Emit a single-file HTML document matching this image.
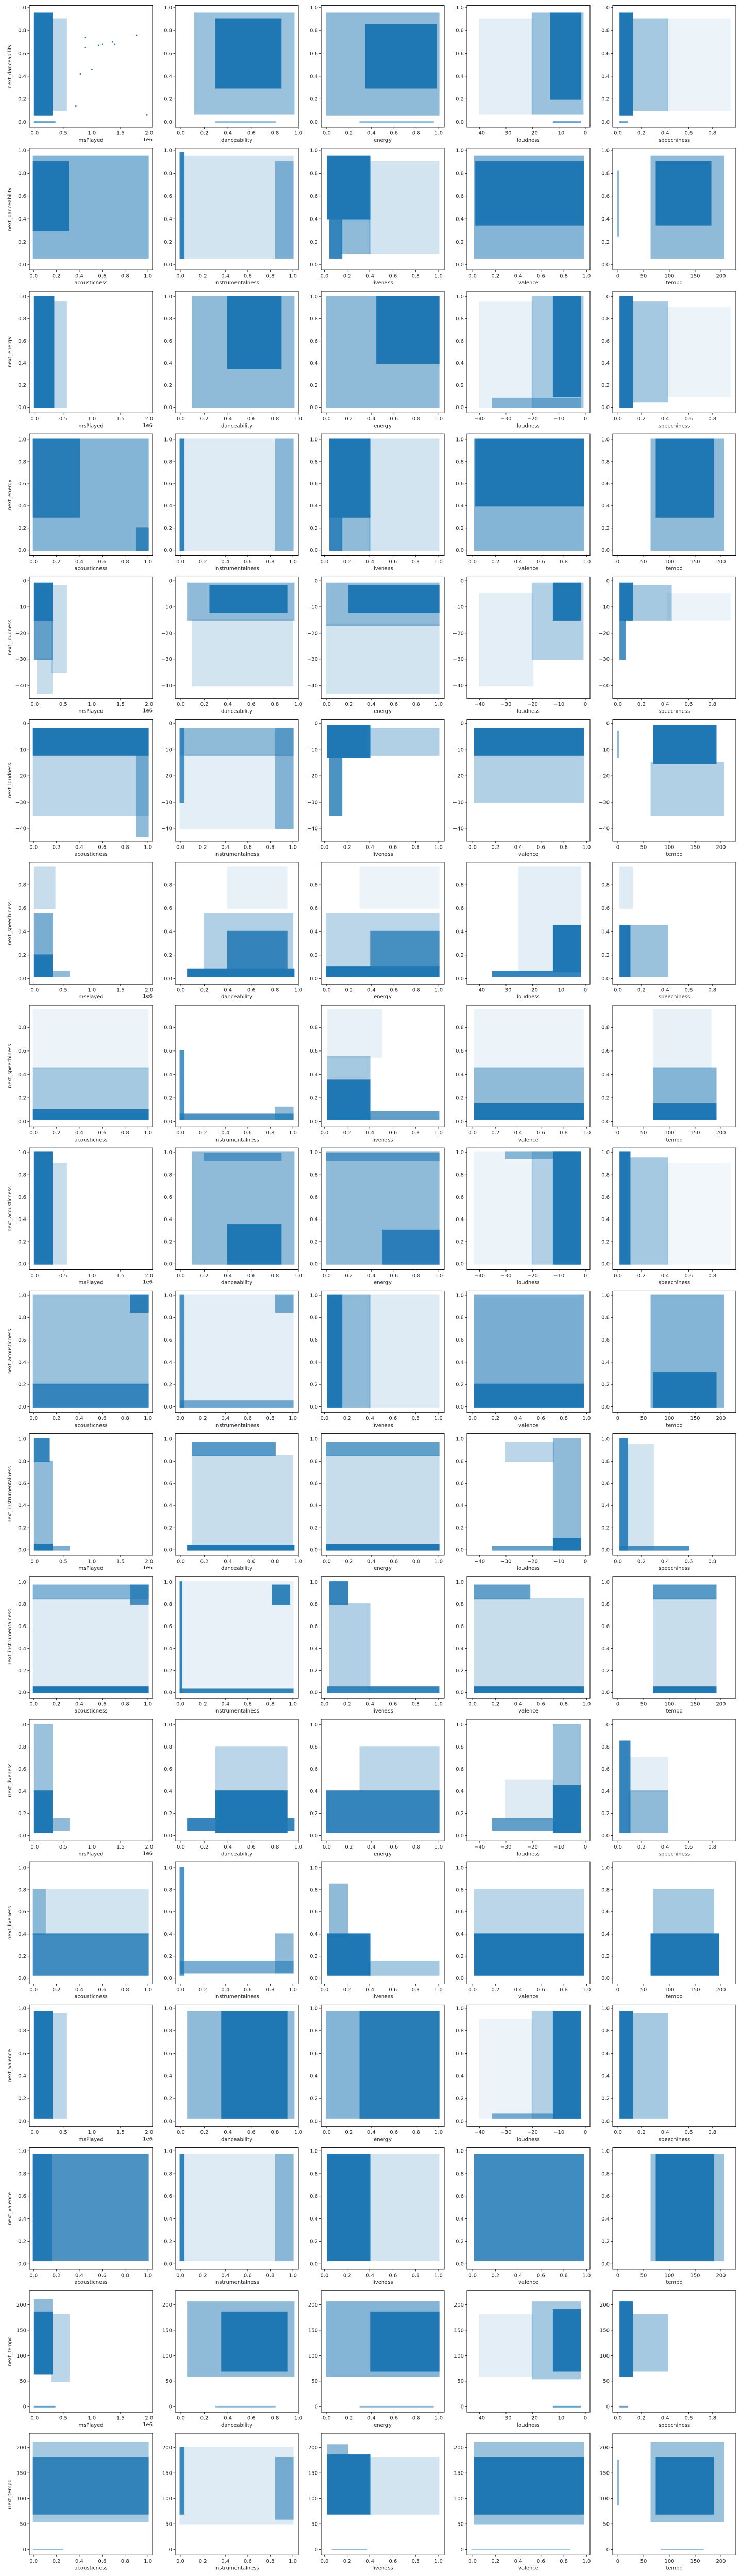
<!DOCTYPE html>
<html><head><meta charset="utf-8">
<style>
html,body{margin:0;padding:0;background:#fff;width:100%;height:100%;overflow:hidden;}
svg{display:block;width:100vw;height:100vh;}
svg text{font-family:"DejaVu Sans","Liberation Sans",sans-serif;fill:#262626;}
</style></head>
<body>
<svg id="chart" xmlns="http://www.w3.org/2000/svg" viewBox="0 0 1440 5184" preserveAspectRatio="none"></svg>
<script>
// ---- data ----
const xVarsA = ["msPlayed","danceability","energy","loudness","speechiness"];
const xVarsB = ["acousticness","instrumentalness","liveness","valence","tempo"];
const targets = ["next_danceability","next_energy","next_loudness","next_speechiness","next_acousticness","next_instrumentalness","next_liveness","next_valence","next_tempo"];
const targetKeys = ["danceability","energy","loudness","speechiness","acousticness","instrumentalness","liveness","valence","tempo"];
const ranges = {
  msPlayed:[-0.093,2.06], danceability:[-0.048,1.0], energy:[-0.05,1.05], loudness:[-44.8,1.75],
  speechiness:[-0.044,1.0], acousticness:[-0.037,1.04], instrumentalness:[-0.046,1.05],
  liveness:[-0.029,1.05], valence:[-0.05,1.03], tempo:[-10,229]
};
const yRanges = {
  danceability:[-0.0465,1.019], energy:[-0.05,1.05], loudness:[-44.9,1.5], speechiness:[-0.047,0.99],
  acousticness:[-0.052,1.04], instrumentalness:[-0.05,1.05], liveness:[-0.05,1.05], valence:[-0.049,1.03], tempo:[-10.9,228]
};
const ticks = {
  msPlayed:[0,0.5,1,1.5,2], danceability:[0,0.2,0.4,0.6,0.8,1], energy:[0,0.2,0.4,0.6,0.8,1],
  loudness:[-40,-30,-20,-10,0], speechiness:[0,0.2,0.4,0.6,0.8], acousticness:[0,0.2,0.4,0.6,0.8,1],
  instrumentalness:[0,0.2,0.4,0.6,0.8,1], liveness:[0,0.2,0.4,0.6,0.8,1], valence:[0,0.2,0.4,0.6,0.8,1], tempo:[0,50,100,150,200]
};
// density regions per panel: [x0,x1,y0,y1,density]
const panelBlobs = [
 [[[0,0.3,0.06,0.95,1],[0.3,0.55,0.1,0.9,0.3],[0,0.35,0,0,0.7]],
  [[0.12,0.96,0.07,0.95,0.45],[0.3,0.85,0.3,0.9,1],[0.3,0.8,0,0,0.5]],
  [[0,1,0.06,0.95,0.5],[0.35,0.98,0.3,0.85,1],[0.3,0.95,0,0,0.5]],
  [[-40,-20,0.07,0.9,0.12],[-20,-1,0.07,0.95,0.45],[-13,-2,0.2,0.95,1],[-12,-2,0,0,0.7]],
  [[0.42,0.95,0.1,0.9,0.08],[0.12,0.42,0.1,0.9,0.4],[0.02,0.12,0.06,0.95,1],[0.02,0.08,0,0,0.7]]],
 [[[0,1,0.06,0.95,0.55],[0,0.3,0.3,0.9,1]],
  [[0,1,0.06,0.95,0.2],[0.85,1,0.06,0.9,0.5],[0,0.03,0.06,0.98,0.9]],
  [[0.4,1,0.1,0.9,0.2],[0.15,0.4,0.1,0.4,0.5],[0.03,0.4,0.4,0.95,1],[0.05,0.15,0.06,0.4,0.9]],
  [[0.02,0.97,0.06,0.95,0.55],[0.03,0.97,0.35,0.9,1]],
  [[65,205,0.06,0.95,0.5],[75,180,0.35,0.9,1],[0,1,0.25,0.82,0.5]]],
 [[[0.33,0.55,0,0.95,0.3],[0,0.33,0,1,1]],
  [[0.1,0.96,0,1,0.5],[0.4,0.85,0.35,1,1]],
  [[0,1,0,1,0.5],[0.45,1,0.4,1,1]],
  [[-40,-20,0,0.95,0.1],[-35,-2,0,0.08,0.5],[-20,-1,0,1,0.4],[-12,-2,0.1,1,1]],
  [[0.42,0.95,0.1,0.9,0.08],[0.12,0.42,0.05,0.95,0.4],[0.02,0.12,0,1,1]]],
 [[[0,1,0,1,0.55],[0,0.4,0.3,1,0.9],[0.9,1,0,0.2,0.8]],
  [[0,1,0,1,0.15],[0.85,1,0,1,0.45],[0,0.03,0,1,0.9]],
  [[0.4,1,0,1,0.2],[0.15,0.4,0,0.3,0.5],[0.05,0.4,0.3,1,1],[0.05,0.15,0,0.3,0.9]],
  [[0.02,0.97,0,1,0.55],[0.03,0.97,0.4,1,1]],
  [[65,205,0,1,0.5],[75,185,0.3,1,1]]],
 [[[0.3,0.55,-35,-2,0.25],[0.05,0.3,-43,-30,0.25],[0,0.3,-30,-15,0.7],[0,0.3,-15,-1,1]],
  [[0.1,0.95,-40,-15,0.2],[0.06,0.96,-15,-1,0.5],[0.25,0.9,-12,-2,1]],
  [[0,1,-43,-17,0.2],[0,1,-17,-1,0.5],[0.2,1,-12,-2,1]],
  [[-40,-20,-40,-5,0.12],[-20,-1,-30,-1,0.35],[-12,-2,-15,-1,1]],
  [[0.42,0.95,-15,-5,0.08],[0.12,0.45,-15,-2,0.4],[0.02,0.06,-30,-15,0.8],[0.02,0.12,-15,-1,1]]],
 [[[0,1,-35,-12,0.3],[0.9,1,-43,-12,0.5],[0,1,-12,-2,1]],
  [[0,1,-40,-12,0.12],[0,1,-12,-2,0.5],[0.85,1,-40,-2,0.5],[0,0.03,-30,-2,0.8]],
  [[0.4,1,-12,-2,0.35],[0.05,0.15,-35,-13,0.8],[0.03,0.4,-13,-1,1]],
  [[0.02,0.97,-30,-12,0.35],[0.02,0.97,-12,-2,1]],
  [[65,205,-35,-15,0.35],[70,190,-15,-1,1],[0,1,-13,-3,0.5]]],
 [[[0,0.35,0.6,0.95,0.25],[0.3,0.6,0.02,0.06,0.5],[0,0.3,0.2,0.55,0.6],[0,0.3,0.02,0.2,1]],
  [[0.4,0.9,0.6,0.95,0.1],[0.2,0.95,0.08,0.55,0.35],[0.4,0.9,0.08,0.4,0.85],[0.06,0.96,0.02,0.08,1]],
  [[0.3,1,0.6,0.95,0.08],[0,1,0.1,0.55,0.3],[0.4,1,0.1,0.4,0.75],[0,1,0.02,0.1,1]],
  [[-25,-2,0.06,0.95,0.12],[-35,-2,0.02,0.06,0.9],[-12,-2,0.06,0.45,1]],
  [[0.1,0.42,0.02,0.45,0.45],[0.02,0.1,0.02,0.45,1],[0.02,0.12,0.6,0.95,0.15]]],
 [[[0,1,0.45,0.95,0.08],[0,1,0.1,0.45,0.4],[0,1,0.02,0.1,1]],
  [[0,1,0.02,0.06,0.8],[0.85,1,0.02,0.12,0.5],[0,0.03,0.02,0.6,0.8]],
  [[0.03,0.5,0.55,0.95,0.1],[0.03,0.4,0.35,0.55,0.4],[0.4,1,0.02,0.08,0.7],[0.03,0.4,0.02,0.35,1]],
  [[0.02,0.97,0.45,0.95,0.08],[0.02,0.97,0.15,0.45,0.5],[0.02,0.97,0.02,0.15,1]],
  [[70,180,0.45,0.95,0.1],[70,190,0.15,0.45,0.55],[70,190,0.02,0.15,1]]],
 [[[0.3,0.55,0,0.9,0.25],[0,0.3,0,1,1]],
  [[0.1,0.96,0,1,0.5],[0.2,0.85,0.93,0.99,0.6],[0.4,0.85,0,0.35,1]],
  [[0,1,0,1,0.5],[0,1,0.93,0.99,0.6],[0.5,1,0,0.3,0.9]],
  [[-42,-20,0,1,0.08],[-20,-2,0,1,0.35],[-30,-2,0.95,1,0.5],[-12,-2,0,1,1]],
  [[0.42,0.95,0,0.9,0.06],[0.1,0.42,0,0.95,0.4],[0.02,0.1,0,1,1]]],
 [[[0,1,0.2,1,0.45],[0,1,0,0.2,0.9],[0.85,1,0.85,1,0.9]],
  [[0,1,0,1,0.12],[0,1,0,0.05,0.6],[0.85,1,0.85,1,0.6],[0,0.03,0,1,0.8]],
  [[0.4,1,0,1,0.15],[0.15,0.4,0,1,0.5],[0.03,0.15,0,1,1]],
  [[0.02,0.97,0.2,1,0.6],[0.02,0.97,0,0.2,1]],
  [[65,205,0,1,0.55],[70,190,0,0.3,1]]],
 [[[0,0.3,0.05,0.8,0.5],[0.3,0.6,0,0.03,0.6],[0,0.25,0.8,1,0.9],[0,0.3,0,0.05,1]],
  [[0.1,0.95,0.04,0.85,0.25],[0.1,0.8,0.85,0.97,0.75],[0.06,0.96,0,0.04,1]],
  [[0,1,0.05,0.85,0.25],[0,1,0.85,0.97,0.7],[0,1,0,0.05,1]],
  [[-30,-12,0.8,0.97,0.3],[-35,-2,0,0.03,0.7],[-12,-2,0.1,1,0.5],[-12,-2,0,0.1,1]],
  [[0.08,0.3,0,0.95,0.2],[0.02,0.6,0,0.03,0.8],[0.02,0.08,0,1,0.9]]],
 [[[0,1,0.05,0.85,0.15],[0,1,0.85,0.97,0.55],[0.85,1,0.8,0.97,0.8],[0,1,0,0.05,1]],
  [[0,1,0,1,0.1],[0,1,0,0.03,0.9],[0.82,0.97,0.8,0.97,0.9],[0,0.01,0,1,0.9]],
  [[0.05,0.4,0.05,0.8,0.35],[0.05,0.2,0.8,1,0.9],[0.03,1,0,0.05,0.9]],
  [[0.02,0.97,0.05,0.85,0.25],[0.02,0.5,0.85,0.97,0.7],[0.02,0.97,0,0.05,1]],
  [[70,190,0.05,0.85,0.25],[70,190,0.85,0.97,0.75],[70,190,0,0.05,1]]],
 [[[0,0.3,0.4,1,0.45],[0.3,0.6,0.05,0.15,0.5],[0,0.3,0.03,0.4,1]],
  [[0.3,0.9,0.4,0.8,0.3],[0.06,0.96,0.05,0.15,0.9],[0.3,0.9,0.03,0.4,1]],
  [[0.3,1,0.4,0.8,0.3],[0,1,0.03,0.4,0.9]],
  [[-30,-12,0.15,0.5,0.15],[-35,-12,0.05,0.15,0.7],[-12,-2,0.45,1,0.45],[-12,-2,0.03,0.45,1]],
  [[0.1,0.42,0.03,0.4,0.5],[0.1,0.42,0.4,0.7,0.12],[0.02,0.1,0.03,0.85,0.9]]],
 [[[0,1,0.4,0.8,0.2],[0,0.1,0.4,0.8,0.4],[0,1,0.03,0.4,0.85]],
  [[0,1,0.05,0.15,0.6],[0.85,1,0.05,0.4,0.5],[0,0.03,0.03,1,0.8]],
  [[0.4,1,0.03,0.15,0.4],[0.05,0.2,0.4,0.85,0.5],[0.03,0.4,0.03,0.4,1]],
  [[0.02,0.97,0.4,0.8,0.3],[0.02,0.97,0.03,0.4,1]],
  [[70,185,0.4,0.8,0.4],[65,195,0.03,0.4,1]]],
 [[[0.3,0.55,0.03,0.95,0.3],[0,0.3,0.03,0.97,1]],
  [[0.06,0.96,0.03,0.97,0.5],[0.35,0.9,0.03,0.97,1]],
  [[0,1,0.03,0.97,0.55],[0.3,1,0.03,0.97,0.9]],
  [[-40,-20,0.03,0.9,0.08],[-35,-2,0.03,0.06,0.6],[-20,-2,0.03,0.97,0.35],[-12,-2,0.03,0.97,1]],
  [[0.12,0.42,0.03,0.95,0.4],[0.02,0.12,0.03,0.97,1]]],
 [[[0,1,0.03,0.97,0.8],[0,0.15,0.03,0.97,0.9]],
  [[0,1,0.03,0.97,0.15],[0.85,1,0.03,0.97,0.45],[0,0.03,0.03,0.97,0.9]],
  [[0.4,1,0.03,0.97,0.2],[0.03,0.4,0.03,0.97,1]],
  [[0.02,0.97,0.03,0.97,0.85]],
  [[65,205,0.03,0.97,0.45],[75,185,0.03,0.97,1]]],
 [[[0.3,0.6,50,180,0.3],[0,0.3,185,210,0.5],[0,0.3,65,185,1],[0,0.35,0,0,0.7]],
  [[0.06,0.96,60,205,0.5],[0.35,0.9,70,185,1],[0.3,0.8,0,0,0.5]],
  [[0,1,60,205,0.55],[0.4,1,70,185,1],[0.3,0.95,0,0,0.5]],
  [[-40,-20,60,180,0.12],[-20,-2,55,205,0.4],[-12,-2,70,190,1],[-12,-2,0,0,0.7]],
  [[0.12,0.42,70,180,0.4],[0.02,0.12,60,205,1],[0.02,0.08,0,0,0.7]]],
 [[[0,1,55,210,0.4],[0,1,70,180,0.85],[0,0.25,0,0,0.5]],
  [[0,1,50,200,0.15],[0.85,1,60,180,0.55],[0,0.03,70,200,0.85]],
  [[0.4,1,70,180,0.2],[0.03,0.2,185,205,0.5],[0.03,0.4,70,185,1],[0.07,0.37,0,0,0.5]],
  [[0.02,0.97,50,210,0.45],[0.02,0.97,70,180,1],[0,0.85,0,0,0.4]],
  [[65,205,55,210,0.45],[75,185,70,180,1],[0,1,88,175,0.5],[85,165,0,0,0.5]]]
];
const msOutlierX = [0.72,0.8,0.88,0.88,1.0,1.12,1.18,1.36,1.4,1.78,1.96];
const msOutlierY = [0.14,0.42,0.74,0.65,0.46,0.67,0.68,0.7,0.68,0.76,0.06];

// ---- layout ----
const svg = document.getElementById('chart');
const NS = 'http://www.w3.org/2000/svg';
const L0 = 57, CW = 283, AW = 239, T0 = 11, RH = 287.4, AH = 245;
const BLUE = '#1f77b4';
function mk(tag, attrs, parent){ const e=document.createElementNS(NS,tag); for(const k in attrs) e.setAttribute(k,attrs[k]); (parent||svg).appendChild(e); return e; }
function fmt(v, key){
  if(key==='loudness'||key==='tempo') return String(v).replace('-','\u2212');
  return v.toFixed(1);
}

for(let r=0;r<18;r++){
  const tIdx = Math.floor(r/2);
  const yKey = targetKeys[tIdx];
  const vars = (r%2===0)?xVarsA:xVarsB;
  const top = T0 + r*RH;
  for(let c=0;c<5;c++){
    const xKey = vars[c];
    const left = L0 + c*CW;
    const xr = ranges[xKey], yr = yRanges[yKey];
    const sx = v => left + (v-xr[0])/(xr[1]-xr[0])*AW;
    const sy = v => top + AH - (v-yr[0])/(yr[1]-yr[0])*AH;
    const g = mk('g',{});
    
    
    const clipId = 'c'+r+'_'+c;
    const cp = mk('clipPath',{id:clipId},g);
    mk('rect',{x:left,y:top,width:AW,height:AH},cp);
    const pg = mk('g',{'clip-path':'url(#'+clipId+')'},g);
    panelBlobs[r][c].forEach(b=>{
      const x0=sx(b[0]), x1=sx(b[1]), y0=sy(b[3]), y1=sy(b[2]);
      const rc = mk('rect',{x:x0-1.5,y:y0-1.5,width:Math.max(3,x1-x0+3),height:Math.max(3,y1-y0+3),fill:BLUE,'fill-opacity':b[4]},pg);
      
      
    });
    if(xKey==='msPlayed' && (yKey==='danceability')){
      msOutlierX.forEach((vx,i)=>{
        const p = mk('circle',{cx:sx(vx),cy:sy(msOutlierY[i]),r:1.5,fill:BLUE},pg);
        
        
      });
    }
    const fr = mk('rect',{x:left,y:top,width:AW,height:AH,fill:'none',stroke:'#000','stroke-width':1},g);
    
    
    ticks[xKey].forEach(t=>{
      const x=sx(t);
      mk('line',{x1:x,x2:x,y1:top+AH,y2:top+AH+3.5,stroke:'#000','stroke-width':0.8},g);
      const tx = mk('text',{x:x,y:top+AH+15,'font-size':10,'text-anchor':'middle'},g);
      tx.textContent = (xKey==='msPlayed')? t.toFixed(1) : fmt(t,xKey);
      
      
    });
    const xl = mk('text',{x:left+AW/2,y:top+AH+29,'font-size':10,'text-anchor':'middle'},g);
    xl.textContent = xKey;
    
    
    if(xKey==='msPlayed'){
      const off = mk('text',{x:left+AW,y:top+AH+28,'font-size':10,'text-anchor':'end'},g);
      off.textContent='1e6';
      
      
    }
    ticks[yKey].forEach(t=>{
      const y=sy(t);
      mk('line',{x1:left-3.5,x2:left,y1:y,y2:y,stroke:'#000','stroke-width':0.8},g);
      const ty = mk('text',{x:left-6,y:y+3.5,'font-size':10,'text-anchor':'end'},g);
      ty.textContent = fmt(t,yKey);
      
      
    });
    if(c===0){
      const cy = top+AH/2;
      const yl = mk('text',{x:22,y:cy,'font-size':10,'text-anchor':'middle',transform:'rotate(-90 22 '+cy+')'},g);
      yl.textContent = targets[tIdx];
      
      
    }
  }
}
</script>
</body></html>
